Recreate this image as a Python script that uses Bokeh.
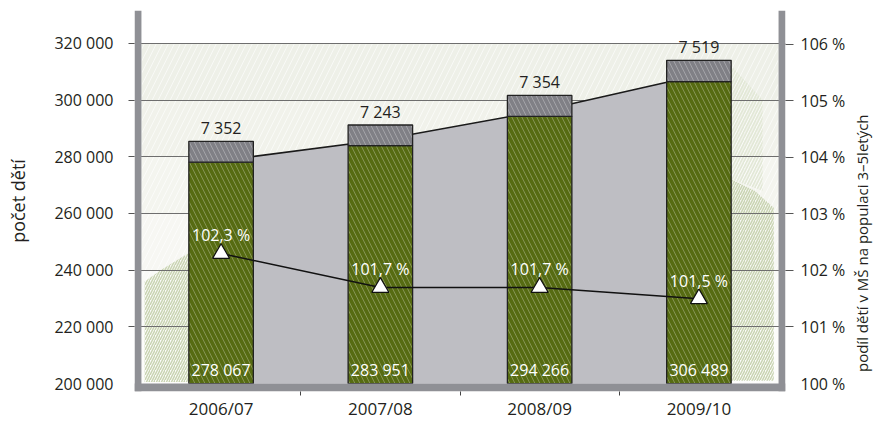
import math
from bokeh.plotting import figure
from bokeh.models import (Range1d, LinearAxis, FixedTicker, ColumnDataSource,
                          LabelSet)
from bokeh.embed import file_html
from bokeh.resources import INLINE
from bokeh.core.properties import value

# ---------------- data ----------------
categories = ["2006/07", "2007/08", "2008/09", "2009/10"]
children_main = [278067, 283951, 294266, 306489]
children_extra = [7352, 7243, 7354, 7519]
share_pct = [102.3, 101.7, 101.7, 101.5]
area_vals = [278600, 285900, 296100, 308800]
left_ticks = [200000, 220000, 240000, 260000, 280000, 300000, 320000]
right_ticks = [100, 101, 102, 103, 104, 105, 106]

FONT = "Open Sans"
TXT = "#231f20"
BAND = "#8f9095"

n = len(categories)
xc = [i + 0.5 for i in range(n)]
totals = [a + b for a, b in zip(children_main, children_extra)]

def sp(v):
    return f"{v:,}".replace(",", " ")

# frame includes the grey border band (px -> data padding)
pad_x = 0.0436
y0, y1 = 197193, 331579
p0, p1 = 99.859, 106.598

p = figure(width=885, height=422, output_backend="svg", toolbar_location=None,
           x_range=Range1d(-pad_x, n + pad_x), y_range=Range1d(y0, y1),
           min_border_left=134, min_border_right=95, min_border_top=10,
           min_border_bottom=29)
p.outline_line_color = None
p.extra_y_ranges = {"pct": Range1d(p0, p1)}

# background gradient bands (decoration)
grad = ["#eef0e8", "#f1f2eb", "#f4f5ef", "#f7f7f3", "#f9faf7", "#fcfcfa"]
step = (left_ticks[-1] - left_ticks[0]) / len(grad)
for i, c in enumerate(grad):
    p.quad(left=0, right=n, top=left_ticks[-1] - i * step,
           bottom=left_ticks[-1] - (i + 1) * step, fill_color=c, line_color=None,
           hatch_pattern="/", hatch_color="white", hatch_alpha=0.6,
           hatch_scale=12, hatch_weight=1, level="image")

# light green sketch strokes
p.patch(x=[0.02, 0.02, 0.12, 0.295, 0.295], y=[200500, 236000, 240000, 246000, 200500],
        fill_alpha=0, line_alpha=0, hatch_pattern="/", hatch_color="#c9d4b2",
        hatch_scale=5, hatch_weight=1.5, level="image")
p.patch(x=[3.705, 3.705, 3.85, 3.97, 3.97], y=[201000, 272000, 268000, 262000, 201000],
        fill_alpha=0, line_alpha=0, hatch_pattern="/", hatch_color="#c9d4b2",
        hatch_scale=5, hatch_weight=1.5, level="image")
p.patch(x=[3.705, 3.705, 3.9, 3.9], y=[272000, 312000, 300000, 268000],
        fill_alpha=0, line_alpha=0, hatch_pattern="/", hatch_color="#e2e8d6",
        hatch_scale=6, hatch_weight=1.5, level="image")

# grey area
p.varea(x=xc, y1=left_ticks[0], y2=area_vals, fill_color="#bebec3")
p.line(xc, area_vals, line_color="#1a1a1a", line_width=1.6)

# bars
p.vbar(x=xc, bottom=left_ticks[0], top=children_main, width=0.405,
       fill_color="#566b12", line_color="#222222", line_width=1.3,
       hatch_pattern="\\", hatch_color="white", hatch_alpha=0.28,
       hatch_scale=10, hatch_weight=1)
p.vbar(x=xc, bottom=children_main, top=totals, width=0.405,
       fill_color="#808086", line_color="#222222", line_width=1.3,
       hatch_pattern="\\", hatch_color="white", hatch_alpha=0.28,
       hatch_scale=10, hatch_weight=1)

# grey border band (decoration, at the frame edges)
p.quad(left=-pad_x, right=0, bottom=y0, top=y1, fill_color=BAND, line_color=None)
p.quad(left=n, right=n + pad_x, bottom=y0, top=y1, fill_color=BAND, line_color=None)
p.quad(left=-pad_x, right=n + pad_x, bottom=y0, top=left_ticks[0],
       fill_color=BAND, line_color=None)

# share line
p.line(xc, share_pct, y_range_name="pct", line_color="#111111", line_width=1.5)
p.scatter(xc, share_pct, y_range_name="pct", marker="triangle", size=17,
          fill_color="white", line_color="#111111", line_width=1.2)

src = ColumnDataSource(dict(
    x=xc, tot=totals, pct=share_pct, bottom=[left_ticks[0]] * n,
    main_t=[sp(v) for v in children_main],
    extra_t=[sp(v) for v in children_extra],
    pct_t=[f"{v:.1f} %".replace(".", ",") for v in share_pct]))

p.add_layout(LabelSet(x="x", y="bottom", text="main_t", source=src, y_offset=8,
                      text_align="center", text_baseline="alphabetic",
                      text_color="white", text_font=value(FONT), text_font_size="16px"))
p.add_layout(LabelSet(x="x", y="tot", text="extra_t", source=src, y_offset=7,
                      text_align="center", text_baseline="alphabetic",
                      text_color=TXT, text_font=value(FONT), text_font_size="16px"))
p.add_layout(LabelSet(x="x", y="pct", text="pct_t", source=src, y_range_name="pct",
                      y_offset=12, text_align="center", text_baseline="alphabetic",
                      text_color="white", text_font=value(FONT), text_font_size="16px"))

# axes
ya = p.yaxis[0]
ya.ticker = FixedTicker(ticks=left_ticks, minor_ticks=left_ticks[1:])
ya.major_label_overrides = {v: sp(v) for v in left_ticks}
ya.major_tick_out = 0
ya.major_tick_in = 0
ya.minor_tick_out = 6
ya.minor_tick_in = 0
ya.minor_tick_line_color = "#555555"
ya.axis_line_color = None
ya.major_label_standoff = 15
ya.major_label_text_font = FONT
ya.major_label_text_font_size = "16px"
ya.major_label_text_color = TXT
ya.axis_label = "počet dětí"
ya.axis_label_text_font = FONT
ya.axis_label_text_font_size = "18px"
ya.axis_label_text_font_style = "normal"
ya.axis_label_text_color = TXT
ya.axis_label_standoff = 21

p.ygrid.ticker = FixedTicker(ticks=left_ticks[1:])
p.ygrid.grid_line_color = "#6e6e6e"
p.ygrid.grid_line_width = 1
p.xgrid.visible = False

ra = LinearAxis(y_range_name="pct",
                ticker=FixedTicker(ticks=right_ticks, minor_ticks=right_ticks[1:]))
ra.major_label_overrides = {v: f"{v} %" for v in right_ticks}
ra.major_tick_out = 0
ra.major_tick_in = 0
ra.minor_tick_out = 8
ra.minor_tick_in = 0
ra.minor_tick_line_color = "#555555"
ra.axis_line_color = None
ra.major_label_standoff = 7
ra.major_label_text_font = FONT
ra.major_label_text_font_size = "16px"
ra.major_label_text_color = TXT
ra.axis_label = "\u00a0" * 5 + "podíl dětí v MŠ na populaci 3–5letých"
ra.axis_label_orientation = math.pi / 2
try:
    ra.axis_label_align = "start"
except Exception:
    pass
ra.axis_label_text_font = FONT
ra.axis_label_text_font_size = "15px"
ra.axis_label_text_font_style = "normal"
ra.axis_label_text_color = TXT
ra.axis_label_standoff = 14
p.add_layout(ra, "right")

xa = p.xaxis[0]
xa.ticker = FixedTicker(ticks=xc, minor_ticks=list(range(1, n)))
xa.major_label_overrides = {x: c for x, c in zip(xc, categories)}
xa.major_tick_out = 0
xa.major_tick_in = 0
xa.minor_tick_out = 4
xa.minor_tick_in = 0
xa.minor_tick_line_color = "#444444"
xa.axis_line_color = None
xa.major_label_standoff = 1
xa.major_label_text_font = FONT
xa.major_label_text_font_size = "17px"
xa.major_label_text_color = TXT

open("out.html", "w").write(file_html(p, INLINE))
